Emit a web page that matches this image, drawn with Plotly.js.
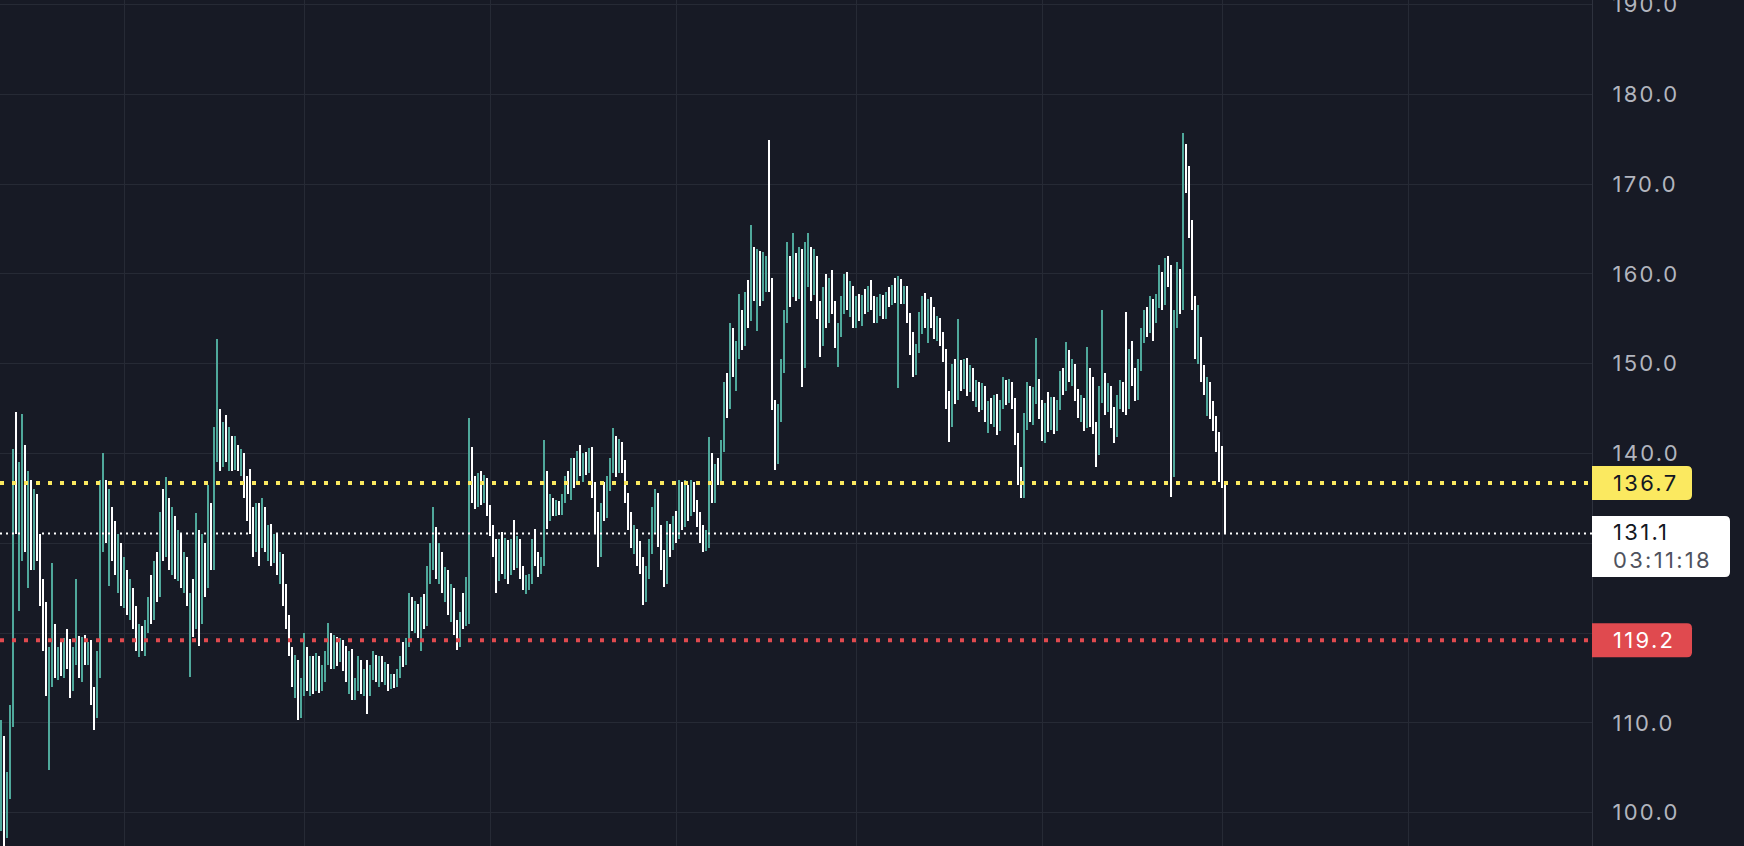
<!DOCTYPE html>
<html><head><meta charset="utf-8">
<script src="https://cdn.plot.ly/plotly-3.0.1.min.js"></script>
<style>
html,body{margin:0;padding:0;background:#171a25;overflow:hidden}
#chart{width:1744px;height:846px}
.scatterlayer .js-line{shape-rendering:crispEdges}
g.ytick text, text.annotation-text{letter-spacing:2.3px}
</style></head><body><div id="chart"></div>
<script>
const open=[
98.5,108,101,103,110.5,137,131.5,136,140,132,
135.5,129,134,130,124.5,120,116,117,119.5,116,
118,116.2,118.8,117,114,117.6,118.8,116,119,117.5,
118.5,113,111,116,134,136,131.5,133.5,130,128,
129.5,125,126.5,123.5,124.5,121.5,119.5,120,118.5,121,
123.5,122,127,125,132,129.5,134,128.5,132.5,127,
130,126,128,120.5,123,121,129,122,128.5,126,
133,129,141,144,139.5,142.5,140,141.5,139,140.5,
138.5,139.8,136,134,132.5,131,133,130.5,133.5,130,
131.5,128.5,130.5,127.2,128.3,124,121.5,118,115,116.5,
111,113.8,118,114.5,116.8,114,117,114.3,115.8,117.5,
119,116.8,119,117.2,118.8,117,115.5,117.5,113.5,114.5,
116.7,114,115.5,114.3,116,117.3,115,116.5,115,116.2,
114.2,115,114.3,115.6,117.2,116.8,119,123.5,121,122.8,
120.3,123.5,121.2,127,129.5,131,127,128.5,125.3,126.6,
122.8,124.8,120.5,119,121.8,121.2,124,140,135.5,134.8,
137.2,135,136.8,134,131.3,129.5,126.5,129.8,127.5,129.8,
126.8,129.6,128,130,126.8,125.3,125.8,126.2,130,128.5,
127,128,137.5,133,134.5,133.5,134.3,133.5,135.2,137,
136,139,137,139.8,138.3,139.5,138.2,140.2,136,132.5,
129.3,134,133.2,136.8,138.8,141.5,138.5,140.6,138.6,135.2,
132.5,130.2,131.2,128.3,127,124.5,126.8,129.8,133.2,135.2,
130.6,128,126.2,131.6,129.8,132.5,131,134.5,132.3,135.8,
133.5,136.3,134.2,132.4,130.8,129.7,130.6,139.5,135.8,138.2,
137.3,140.8,147,145.5,153,150,151.5,155,152.6,157.3,
155.5,162,158,161.5,157.5,161.2,161.8,159,145.5,139.5,
144.5,149.8,155.2,161.5,158,161.8,157.8,162.2,150,160.5,
162,158.2,161.5,155.8,152.5,157.5,155,158.8,156.3,152.6,
153.8,156.8,158.9,156.8,158.2,155,156.8,155.4,157,156.2,
158.2,156.5,155.2,156.6,157.3,155.6,157.6,157,158.4,157,
159,157.4,158.1,155,151.8,149.6,151.6,155.2,156.8,154.8,
156.3,155.5,153.6,154.7,152.8,151.2,146,143.5,149,146.5,
149.6,148,150,147.2,149,146.5,147.6,145.3,147,144.2,
145.2,144,146,143,145.5,147.8,146,147.7,145.7,141.8,
137.5,136.2,143.8,146.8,144.2,146.5,147.8,144.5,142.3,144.8,
143.3,145.8,143,145.4,148.6,147.4,150.7,148.8,149.6,146.5,
144.8,145.8,143.3,148.8,144,142.8,140.2,146.8,148.5,145.3,
147.2,143.5,142,145.8,147.5,148.5,145.3,151,148.2,146.5,
149.8,153.3,155.5,154,156.8,155,157,159.8,157,161,
159.5,140.5,155,159,156.5,172.5,170,165,157,151.5,
152.5,149,147.3,147.6,145,143.5,141.5,138.5,136.6];
const high=[
110.3,108.5,104.5,112,140.5,144.6,139,144.4,141,138,
137,136,135.5,131,126,123.5,118.5,127.8,121,118.5,
119,119.5,120.5,119.3,118.5,126,119.7,119.6,119.8,119,
119.2,114,118,137,140,137,136,134,132.5,131,
130,128.5,127,126,125,123,121,120.8,121.5,124,
126.5,128,129,133.5,136,137.4,135,134,133,131.5,
131,129,128.5,124.5,126,133.4,131.5,131,130,136.5,
134.5,143,152.7,145,143.5,144.3,143,142,142,141,
140.5,140,137.5,138.3,134,134.5,134.5,135,134,132,
132.2,131,131,129,128.8,125.5,122,118.5,117.6,117,
115,120,118.5,117.5,117.5,117.8,117.5,116.5,118,121.1,
120,119.8,119.6,119.5,119.2,118.6,118,118.2,115,117.5,
117,116,117,116.5,118,117.6,117.5,117.4,116.8,116.6,
115.5,115.4,116,117.5,119,119.5,124.5,124,123.6,123.2,
124,124.4,127.5,130,134,131.8,130,129,127.4,127,
125.5,125,121.5,122.3,124.5,126.2,143.9,140.7,137.5,137.8,
138,137.6,137.3,134.3,132,130.5,130.5,131.3,130.6,130.4,
130.5,132.6,130.8,130.5,127.5,126.5,126.6,130.5,131.6,129,
128.5,141.5,138,135.5,135,134.8,134.7,135.5,137.5,138,
139.5,139.5,140.3,141,140,140.2,140.6,140.7,136.8,133.5,
134.5,136.8,137.5,139.5,142.8,142,141.6,141.3,139.3,135.6,
133.5,132,131.6,130.2,128.5,127.5,130.5,134,136,135.6,
132,129.2,132.5,132.2,133,133.6,137,136.8,137,136.5,
137,136.8,134.8,133.5,132,131.5,141.8,140,138.8,139.5,
141.5,148,149,154.5,154,152.5,157.8,156,158,159.3,
165.4,163,162.8,162.5,162.4,162,174.9,159.5,146,145.5,
150.5,156,163.5,162,164.6,162.3,163,162.8,163.6,164.5,
163,162.8,162,157,158.5,160,159.5,160.4,157,154.5,
157.5,160,160.2,159.2,158.6,157.5,157.8,157.6,158.3,158.6,
159.3,157.5,157.4,157.8,157.6,158,158.5,158.8,159.5,159.8,
159.4,158.7,158.6,155.6,153.5,152.2,155.8,157.5,157.9,157.2,
157.4,156.3,155.3,155.1,153.5,151.6,147,150,150.5,155,
150.4,150.5,150.6,149.8,149.5,148.2,148,147.8,147.5,145.8,
146.2,146.5,146.6,146,148.5,148.2,148.3,148,146.2,142.3,
138.5,144.5,148,147.5,147.4,152.9,148.3,146,145.6,146.8,
146.3,146.3,146,149.2,149.5,152.4,151.5,150.5,150,147.2,
146.5,146.2,151.9,149.5,148.5,143.5,147.5,156,149,147.8,
147.5,145.2,146.5,148.2,148,155.8,151.6,152.5,149.5,150.5,
154,156,156.3,157.5,157.2,157.8,161,160.2,161.8,162,
161,156,161.3,160.5,175.7,174.5,172,166,157.5,156.5,
153,149.8,148.5,148,145.8,144.2,142.4,140.8,136.8];
const low=[
98,96.3,97.2,101.5,109.5,131,122.5,128,129,125,
127,127,128,123,118,113,104.8,114,115,114.8,
115.2,115,116,112.8,113.5,116.5,115,114.5,116.5,116.5,
112,109.2,110.5,115,129,130,125.2,128,126.5,124.5,
123,122.8,122,121.5,120.5,118,117.3,118,117.5,120,
121,121.5,123.5,124,128,128.5,127,126.5,126,125.8,
125,124.5,123,115.1,119.6,120.5,118.6,121,124,125,
127,127,139,138,138.5,139,138,138,138.2,138,
137.5,135,132.5,131,128.5,129,127.5,129.5,129,128,
127.5,127.8,126.5,125.5,123,120.5,117.5,114,112.8,110.3,
110.5,113,113.5,113,113.2,113.5,113.3,113.6,114.5,116.5,
116,116,116.3,116.8,115.8,114.6,113.2,112.5,112.6,113.5,
113.2,113,111,113,114.8,114.5,114,114.5,114.2,113.5,
113.8,113.9,114,115,116.2,116.4,118.5,120.2,120,119.5,
118,120.5,120.8,125.5,127,126,125.5,124.5,123.5,122,
121.2,119.8,118.1,118.5,120.5,120.8,121,134.5,133.8,134,
134.3,134.5,133,130.8,128.5,124.5,125.8,126.6,126,125.5,
126.5,127,127.2,126,124.8,124.4,124.8,125.5,127.5,126.2,
126.6,127.5,131.6,132.5,133,133,133.1,133.2,134.5,135.5,
134.8,136.2,136.5,137.5,136.8,137.6,137.8,135,131,127.4,
128.5,132.5,132.8,135.8,137.8,137.4,137.8,137.8,134.5,131.5,
129.5,128.8,127.5,126.6,123.1,123.5,126,128.8,131.2,129.6,
127,125.1,125.5,128.5,129.2,130,130.5,131.5,131.8,132.5,
133,133.5,131.8,130,129,129.1,129.5,134.5,134.5,136.5,
136.8,140.2,144,145,148.5,147,150.5,151.5,152,154,
154.8,157,153.6,156.4,157,158,158,144.8,138.2,138.8,
143.5,149,154.5,156.3,157.4,157,157.2,147.4,149.5,158.5,
157,157.6,155,150.8,152,154,154.5,155.5,151.8,149.6,
153,155.5,156,155.2,154,154,154.8,154.2,155.5,155.8,
156,154.5,154.5,155.3,155,155,156.3,156.5,156.8,147.3,
156.7,156.6,154.5,151,148.5,148.7,151.2,153.3,154,152.3,
154,152.8,152.5,152,150.2,145,141.3,143,145.5,146,
147,147.2,146.4,146.8,145.8,145.2,144.6,144.8,143.5,142.3,
143.3,143,142.1,142.5,145,145.4,145.6,145,141,136.5,
135,135,142.6,143.5,143.2,145.5,143.8,141.4,141.2,142.4,
142.6,142.2,142.5,144.8,146.5,147,148,147.5,145.8,144,
143.5,142.5,142.8,143,142.2,138.5,139.8,145.6,144.3,144.6,
142.8,141.2,141.8,145,144.6,144.3,145,147.5,145.8,146,
149.2,152.3,153,153.4,152.5,154.5,156.2,156,156.5,158.5,
135.2,137.4,154,155.5,156,169,164,156,150.5,150,
148,146.5,144.2,143.8,142.5,140.2,136.8,136.2,131.1];
const close=[
108,101,103,110.5,137,131.5,136,140,132,135.5,
129,134,130,124.5,120,116,117,119.5,116,118,
116.2,118.8,117,114,117.6,118.8,116,119,117.5,118.5,
113,111,116,134,136,131.5,133.5,130,128,129.5,
125,126.5,123.5,124.5,121.5,119.5,120,118.5,121,123.5,
122,127,125,132,129.5,134,128.5,132.5,127,130,
126,128,124,123,121,129,122,128.5,126,133,
129,141,144,139.5,142.5,140,141.5,139,140.5,138.5,
139.8,136,134,132.5,131,133,130.5,133.5,130,131.5,
128.5,130.5,127.2,128.3,124,121.5,118,115,116.5,111,
113.8,118,114.5,116.8,114,117,114.3,115.8,117.5,119,
116.8,119,117.2,118.8,117,115.5,117.5,113.5,114.5,116.7,
114,115.5,114.3,116,117.3,115,116.5,115,116.2,114.2,
115,114.3,115.6,117.2,116.8,119,123.5,121,122.8,120.3,
123.5,121.2,127,129.5,131,127,128.5,125.3,126.6,122.8,
124.8,120.5,119,121.8,121.2,125,140,135.5,134.8,137.2,
135,136.8,134,131.3,129.5,126.5,129.8,127.5,129.8,126.8,
129.6,128,130,126.8,125.3,125.8,126.2,130,128.5,127,
128,137.5,133,134.5,133.5,134.3,133.5,135.2,137,136,
139,137,139.8,138.3,139.5,138.2,140.2,136,132.5,129.3,
134,133.2,136.8,138.8,141.5,138.5,140.6,138.6,135.2,132.5,
130.2,131.2,128.3,127,124.5,126.8,129.8,133.2,135.2,130.6,
128,126.2,131.6,129.8,132.5,131,134.5,132.3,135.8,133.5,
136.3,134.2,132.4,130.8,129.7,130.6,139.5,135.8,138.2,137.3,
140.8,147,145.5,153,150,151.5,155,152.6,157.3,155.5,
162,158,161.5,157.5,161.2,161.8,159,145.5,139.5,144.5,
149.8,155.2,161.5,158,161.8,157.8,162.2,150,160.5,162,
158.2,161.5,155.8,152.5,157.5,155,158.8,156.3,152.6,153.8,
156.8,158.9,156.8,158.2,155,156.8,155.4,157,156.2,158.2,
156.5,155.2,156.6,157.3,155.6,157.6,157,158.4,157,159,
157.4,158.1,155,151.8,149.6,151.6,155.2,156.8,154.8,156.3,
155.5,153.6,154.7,152.8,151.2,146,143.5,149,146.5,149.6,
148,150,147.2,149,146.5,147.6,145.3,147,144.2,145.2,
144,146,143,145.5,147.8,146,147.7,145.7,141.8,137.5,
136.2,143.8,146.8,144.2,146.5,147.8,144.5,142.3,144.8,143.3,
145.8,143,145.4,148.6,147.4,150.7,148.8,149.6,146.5,144.8,
145.8,143.3,148.8,144,142.8,140.2,146.8,148.5,145.3,147.2,
143.5,142,145.8,147.5,145.5,145.3,151,148.2,146.5,149.8,
153.3,155.5,154,156.8,155,157,159.8,157,161,159.5,
140.5,155,159,156.5,172.5,170,165,157,151.5,152.5,
149,147.3,147.6,145,143.5,141.5,138.5,136.6,131.1];

// time-axis grid positions (bar index of session boundaries) and price ticks
const timeGridIdx=[41,101,163,225,285,347,407,469];
const priceTicks=[100,110,120,130,140,150,160,170,180,190];
// 120.0 and 130.0 sit under the price tags, so their text is hidden
const priceTickText=['100.0','110.0','','','140.0','150.0','160.0','170.0','180.0','190.0'];
const upperLevel=136.7, lowerLevel=119.2, lastPrice=131.1, countdown='03:11:18';

if(![open,high,low].every(a=>a.length===close.length)){
  document.body.insertAdjacentHTML('afterbegin','<div style="position:absolute;z-index:9;color:red;font-size:40px">LEN '+[open.length,high.length,low.length,close.length].join(',')+'</div>');
}

const UP='#4fa89b', DOWN='#ffffff', BG='#171a25', GRID='#262a35';
function segs(isUp,a,b){
  const x=[],y=[];
  for(let i=0;i<close.length;i++){
    if((close[i]>=open[i])!==isUp) continue;
    x.push(i,i,null); y.push(a[i],b[i],null);
  }
  return {x,y};
}
function tr(isUp,a,b,w){
  const s=segs(isUp,a,b);
  return {type:'scatter',mode:'lines',x:s.x,y:s.y,connectgaps:false,hoverinfo:'skip',
    line:{color:isUp?UP:DOWN,width:w}};
}
const traces=[tr(true,low,high,2),tr(false,low,high,2),tr(true,open,close,2),tr(false,open,close,2)];

const FONT='Inter, "Noto Sans", sans-serif';
function hline(v,color,w,dash){
  return {type:'line',xref:'paper',x0:0,x1:1,yref:'y',y0:v,y1:v,layer:'above',line:{color:color,width:w,dash:dash}};
}
function tag(v,path,fill){
  return {type:'path',layer:'above',xref:'paper',xsizemode:'pixel',xanchor:1,yref:'y',ysizemode:'pixel',yanchor:v,
    path:path,fillcolor:fill,line:{width:0}};
}
const smallTag='M0,17 H95 Q100,17 100,12 V-12 Q100,-17 95,-17 H0 Z';
const bigTag='M0,17.5 H133 Q138,17.5 138,12.5 V-38.5 Q138,-43.5 133,-43.5 H0 Z';
function label(v,text,color,yshift){
  return {xref:'paper',x:1,xanchor:'left',xshift:19,yref:'y',y:v,yanchor:'middle',yshift:yshift||0,
    text:text,showarrow:false,font:{family:FONT,size:22,color:color}};
}

const layout={
  width:1744,height:846,margin:{l:0,r:152,t:0,b:0,pad:0},
  paper_bgcolor:BG,plot_bgcolor:BG,showlegend:false,hovermode:false,
  xaxis:{range:[-1/3,1591/3],tickvals:timeGridIdx,showticklabels:false,ticks:'',showgrid:true,
    gridcolor:GRID,gridwidth:1,zeroline:false,showline:false,fixedrange:true},
  yaxis:{side:'right',range:[96.29,190.5],tickvals:priceTicks,ticktext:priceTickText,ticks:'',showgrid:true,
    gridcolor:GRID,gridwidth:1,zeroline:false,showline:true,linecolor:'#2e323e',linewidth:1,
    tickfont:{family:FONT,size:22,color:'#b2b5be'},ticklabelstandoff:15,ticklabeloverflow:'allow',
    automargin:false,fixedrange:true},
  shapes:[
    hline(upperLevel,'#fbe960',4,'4px,8px'),
    hline(lowerLevel,'#e04a4f',4,'4px,8px'),
    hline(lastPrice,'#ffffff',2,'2px,4px'),
    tag(upperLevel,smallTag,'#fbe960'),
    tag(lastPrice,bigTag,'#ffffff'),
    tag(lowerLevel,smallTag,'#e04a4f')
  ],
  annotations:[
    label(upperLevel,upperLevel.toFixed(1),'#131722'),
    label(lastPrice,lastPrice.toFixed(1),'#131722',1.5),
    label(lastPrice,countdown,'#50535e',-27),
    label(lowerLevel,lowerLevel.toFixed(1),'#ffffff')
  ]
};
Plotly.newPlot('chart',traces,layout,{displayModeBar:false,staticPlot:true});
</script></body></html>
